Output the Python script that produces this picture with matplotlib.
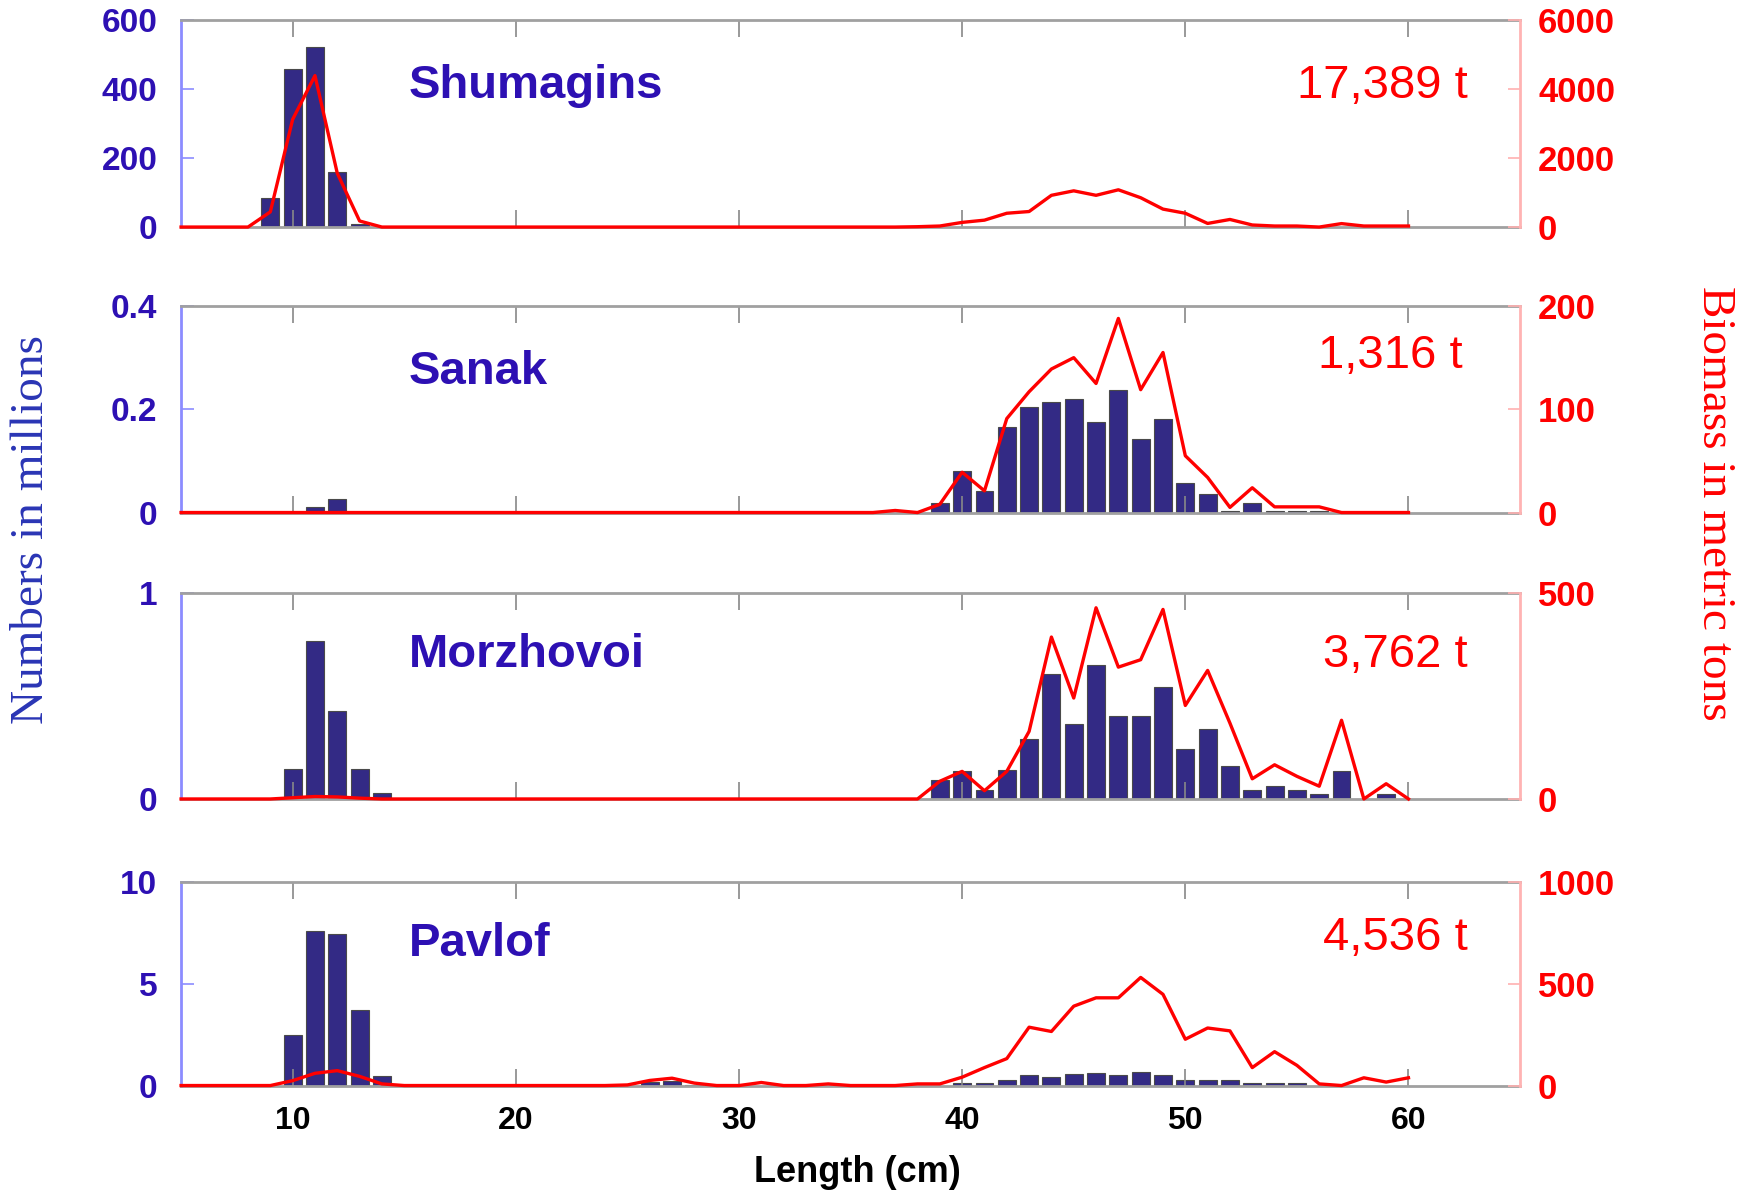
import matplotlib.pyplot as plt

plt.rcParams['font.family'] = ['Liberation Sans', 'DejaVu Sans']

lengths = list(range(5, 61))

# Shumagins
shum_bar_len = [9, 10, 11, 12, 13]
shum_num = [85, 457, 522, 161, 10]
shum_bio = [0, 0, 0, 0, 440, 3120, 4390, 1560, 176, 0,          # 5-14
            0, 0, 0, 0, 0, 0, 0, 0, 0, 0,                       # 15-24
            0, 0, 0, 0, 0, 0, 0, 0, 0, 0,                       # 25-34
            0, 0, 0, 10, 30, 135, 200, 400, 450, 920,           # 35-44
            1050, 920, 1080, 850, 520, 400, 105, 220, 60, 30,   # 45-54
            30, 0, 100, 30, 30, 30]                             # 55-60

# Sanak
sanak_bar_len = [11, 12, 39, 40, 41, 42, 43, 44, 45, 46, 47, 48, 49, 50, 51, 52, 53, 54, 55, 56]
sanak_num = [0.010, 0.026, 0.019, 0.080, 0.042, 0.165, 0.204, 0.215, 0.220, 0.175,
             0.237, 0.143, 0.181, 0.058, 0.036, 0.003, 0.019, 0.003, 0.003, 0.003]
sanak_bio = [0, 0, 0, 0, 0, 0, 0, 0, 0, 0,
             0, 0, 0, 0, 0, 0, 0, 0, 0, 0,
             0, 0, 0, 0, 0, 0, 0, 0, 0, 0,
             0, 0, 2, 0, 8, 39, 21, 91, 117, 139,
             150, 125, 188, 119, 155, 55, 34, 5, 24, 5.5,
             5.5, 5.5, 0, 0, 0, 0]

# Morzhovoi
morz_bar_len = [10, 11, 12, 13, 14, 39, 40, 41, 42, 43, 44, 45, 46, 47, 48, 49, 50,
                51, 52, 53, 54, 55, 56, 57, 59]
morz_num = [0.146, 0.765, 0.429, 0.146, 0.029, 0.091, 0.138, 0.042, 0.139, 0.291,
            0.607, 0.364, 0.652, 0.405, 0.405, 0.542, 0.244, 0.341, 0.159, 0.042,
            0.065, 0.045, 0.024, 0.138, 0.024]
morz_bio = [0, 0, 0, 0, 0, 3, 6, 5, 2, 0,
            0, 0, 0, 0, 0, 0, 0, 0, 0, 0,
            0, 0, 0, 0, 0, 0, 0, 0, 0, 0,
            0, 0, 0, 0, 43, 67, 20, 67, 164, 393,
            245, 464, 320, 338, 460, 227, 312, 184, 49, 83,
            55, 31, 191, 0, 37, 0]

# Pavlof
pav_bar_len = [10, 11, 12, 13, 14, 26, 27, 28, 40, 41, 42, 43, 44, 45, 46, 47, 48,
               49, 50, 51, 52, 53, 54, 55]
pav_num = [2.5, 7.6, 7.45, 3.7, 0.45, 0.15, 0.2, 0.05, 0.1, 0.13, 0.25, 0.53,
           0.40, 0.58, 0.61, 0.53, 0.65, 0.53, 0.25, 0.28, 0.25, 0.1, 0.12, 0.1]
pav_bio = [0, 0, 0, 0, 0, 24, 60, 73, 45, 8,
           0, 0, 0, 0, 0, 0, 0, 0, 0, 0,
           3, 25, 36, 12, 0, 0, 15, 0, 0, 8,
           0, 0, 0, 8, 8, 41, 88, 132, 286, 265,
           389, 430, 430, 530, 447, 227, 282, 268, 88, 166,
           99, 8, 0, 38, 17, 38]

areas = ['Shumagins', 'Sanak', 'Morzhovoi', 'Pavlof']
totals = ['17,389 t', '1,316 t', '3,762 t', '4,536 t']
bar_lens = [shum_bar_len, sanak_bar_len, morz_bar_len, pav_bar_len]
numbers = [shum_num, sanak_num, morz_num, pav_num]
biomass = [shum_bio, sanak_bio, morz_bio, pav_bio]
left_ticks = [[0, 200, 400, 600], [0, 0.2, 0.4], [0, 1], [0, 5, 10]]
left_labels = [['0', '200', '400', '600'], ['0', '0.2', '0.4'], ['0', '1'], ['0', '5', '10']]
right_ticks = [[0, 2000, 4000, 6000], [0, 100, 200], [0, 500], [0, 500, 1000]]

blue = '#2d10b3'
bar_color = '#332a85'

# axes boxes in figure fraction: bottom, height
boxes = [(0.8100, 0.1732), (0.5711, 0.1728), (0.3314, 0.1724), (0.0916, 0.1707)]
title_y = [0.681, 0.680, 0.699, 0.694]
total_pos = [(0.961, 0.681), (0.957, 0.758), (0.961, 0.699), (0.961, 0.725)]

fig = plt.figure(figsize=(17.46, 11.95), dpi=100)

for i in range(4):
    ax = fig.add_axes([0.1037, boxes[i][0], 0.7669, boxes[i][1]])
    ax.bar(bar_lens[i], numbers[i], width=0.8, color=bar_color,
           edgecolor='#4a4a4a', linewidth=0.8)
    ax.set_xlim(5, 65)
    ax.set_ylim(0, left_ticks[i][-1])
    ax.set_yticks(left_ticks[i])
    ax.set_yticklabels(left_labels[i], fontsize=24, fontweight='bold', color=blue)
    ax.set_xticks([10, 20, 30, 40, 50, 60])
    ax.tick_params(axis='x', direction='in', top=True, bottom=True, length=12,
                   color='#888888', width=1.2, pad=15)
    ax.tick_params(axis='y', direction='in', length=9, color='#8c8cff', width=1.2, pad=17)
    if i < 3:
        ax.set_xticklabels([])
    else:
        ax.set_xticklabels(['10', '20', '30', '40', '50', '60'], fontsize=23, fontweight='bold')
    ax.spines['left'].set_color('#8c8cff')
    ax.spines['left'].set_linewidth(2)
    ax.spines['top'].set_color('#a0a0a0')
    ax.spines['top'].set_linewidth(2)
    ax.spines['bottom'].set_color('#a0a0a0')
    ax.spines['bottom'].set_linewidth(2)
    ax.spines['right'].set_visible(False)

    ax2 = ax.twinx()
    ax2.plot(lengths, biomass[i], color='red', linewidth=2.4, clip_on=False)
    ax2.set_ylim(0, right_ticks[i][-1])
    ax2.set_yticks(right_ticks[i])
    ax2.set_yticklabels([str(t) for t in right_ticks[i]], fontsize=25,
                        fontweight='bold', color='red')
    ax2.tick_params(axis='y', direction='in', length=9, color='#ffb0b0', width=1.2, pad=13)
    ax2.spines['right'].set_color('#ffb3b3')
    ax2.spines['right'].set_linewidth(2)
    for s in ['left', 'top', 'bottom']:
        ax2.spines[s].set_visible(False)

    ax2.text(0.170, title_y[i], areas[i], transform=ax.transAxes, fontsize=34,
             fontweight='bold', color=blue, ha='left', va='center')
    ax2.text(total_pos[i][0], total_pos[i][1], totals[i], transform=ax.transAxes,
             fontsize=34, color='red', ha='right', va='center')

fig.text(0.491, 0.0192, 'Length (cm)', fontsize=26, fontweight='bold',
         ha='center', va='center')
fig.text(0.018, 0.557, 'Numbers in millions', fontsize=34, family='Liberation Serif',
         color='#2a35b5', rotation=90, ha='center', va='center')
fig.text(0.982, 0.579, 'Biomass in metric tons', fontsize=34, family='Liberation Serif',
         color='red', rotation=270, ha='center', va='center')

plt.savefig('out.png', dpi=100)
